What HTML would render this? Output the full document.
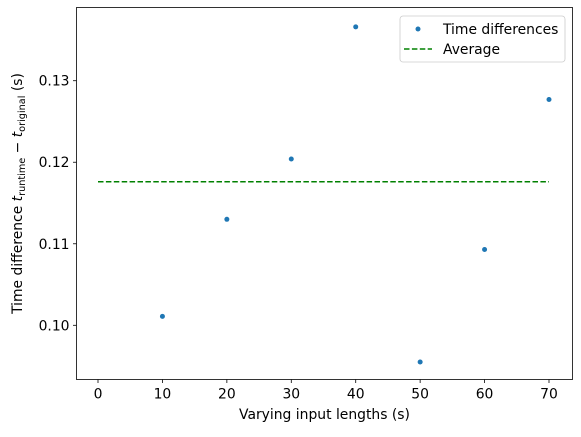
<!DOCTYPE html>
<html><head><meta charset="utf-8"><style>
body{margin:0;background:#fff}
svg text{font-family:"DejaVu Sans","Liberation Sans",sans-serif;font-size:13.9px;fill:#000}
</style></head><body>
<svg width="581" height="432">
<g id="g"></g>
</svg>
<script>
const xs=[10,20,30,40,50,60,70];
const ys=[0.1011,0.1130,0.1204,0.1366,0.0955,0.1093,0.1277];
const avgVal=0.1176;
const xTicks=[0,10,20,30,40,50,60,70];
const yTicks=[0.10,0.11,0.12,0.13];
const L=76.5,R=572.5,T=7.5,B=379.5;
function X(v){return 98+(v-0)*(549-98)/70;}
function Y(v){return 325.3-(v-0.10)*8153;}
const g=document.getElementById('g');
const NS='http://www.w3.org/2000/svg';
function mk(t,a,txt){const e=document.createElementNS(NS,t);for(const k in a)e.setAttribute(k,a[k]);if(txt!==undefined)e.textContent=txt;g.appendChild(e);return e;}
const avg=mk('line',{x1:X(0),x2:X(70),y1:Y(avgVal),y2:Y(avgVal),stroke:'#008000','stroke-width':1.5,'stroke-dasharray':'5.5,2.4'});


xs.forEach((x,i)=>{const c=mk('circle',{cx:X(x),cy:Y(ys[i]),r:2.5,fill:'#1f77b4'});

});
const ax=mk('rect',{x:L,y:T,width:R-L,height:B-T,fill:'none',stroke:'#000','stroke-width':0.8});


xTicks.forEach(v=>{mk('line',{x1:X(v),x2:X(v),y1:B,y2:B+3.5,stroke:'#000','stroke-width':0.8});
const t=mk('text',{x:X(v),y:B+19,'text-anchor':'middle'},String(v));

});
yTicks.forEach(v=>{mk('line',{x1:L-3.5,x2:L,y1:Y(v),y2:Y(v),stroke:'#000','stroke-width':0.8});
const t=mk('text',{x:L-7,y:Y(v)+5,'text-anchor':'end'},v.toFixed(2));

});
const xl=mk('text',{x:(L+R)/2,y:419,'text-anchor':'middle'},'Varying input lengths (s)');


const yl=mk('text',{x:0,y:0,'text-anchor':'middle',transform:'translate(22,'+((T+B)/2)+') rotate(-90)'});
yl.innerHTML='Time difference <tspan font-style="italic">t</tspan><tspan font-size="9.7" dy="3">runtime</tspan><tspan dy="-3"> − </tspan><tspan font-style="italic">t</tspan><tspan font-size="9.7" dy="3">original</tspan><tspan dy="-3"> (s)</tspan>';


const lg=mk('rect',{x:400,y:16,width:165,height:46,rx:3,fill:'#fff','fill-opacity':0.8,stroke:'#ccc','stroke-width':0.8});


mk('circle',{cx:418,cy:29,r:2.5,fill:'#1f77b4'});
const l1=mk('text',{x:443,y:34},'Time differences');


mk('line',{x1:404,x2:432,y1:49,y2:49,stroke:'#008000','stroke-width':1.5,'stroke-dasharray':'5.5,2.4'});
const l2=mk('text',{x:443,y:54},'Average');


</script>
</body></html>
